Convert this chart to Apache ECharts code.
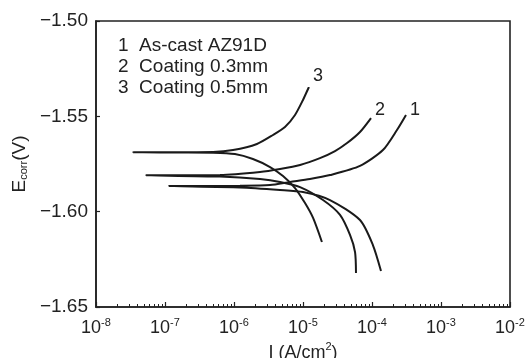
<!DOCTYPE html>
<html>
<head>
<meta charset="utf-8">
<script src="https://cdn.jsdelivr.net/npm/echarts@6/dist/echarts.min.js"></script>
<style>html,body{margin:0;padding:0;background:#fff}#c{width:526px;height:358px}</style>
</head>
<body>
<div id="c"></div>
<script>
// Curve 1: As-cast AZ91D (cathodic end -> tip -> anodic end)
var c1I = [1.35e-4, 1.03e-4, 6.70e-5, 2.46e-5, 1.0e-5, 4.65e-6, 1.22e-6, 1.14e-7, 1.22e-6, 3.33e-6, 6.49e-6, 1.26e-5, 2.46e-5, 6.70e-5, 1.44e-4, 2.30e-4, 3.11e-4];
var c1E = [-1.6311, -1.6175, -1.6044, -1.5939, -1.5897, -1.5886, -1.5873, -1.5866, -1.5864, -1.5860, -1.5844, -1.5829, -1.5808, -1.5760, -1.5677, -1.5572, -1.5493];
// Curve 2: Coating 0.3mm
var c2I = [5.86e-5, 5.68e-5, 4.80e-5, 3.44e-5, 1.95e-5, 9.06e-6, 4.65e-6, 2.38e-6, 6.27e-7, 5.31e-8, 6.27e-7, 2.38e-6, 4.65e-6, 9.06e-6, 1.76e-5, 2.91e-5, 4.35e-5, 6.70e-5, 9.68e-5];
var c2E = [-1.6322, -1.6212, -1.6122, -1.6017, -1.5939, -1.5871, -1.5844, -1.5829, -1.5816, -1.5809, -1.5808, -1.5792, -1.5776, -1.5755, -1.5719, -1.5682, -1.5640, -1.5582, -1.5509];
// Curve 3: Coating 0.5mm
var c3I = [1.88e-5, 1.40e-5, 1.07e-5, 7.66e-6, 5.13e-6, 3.33e-6, 1.88e-6, 1.03e-6, 4.97e-7, 1.65e-7, 3.44e-8, 1.65e-7, 4.97e-7, 9.68e-7, 2.15e-6, 3.67e-6, 5.48e-6, 7.66e-6, 1.0e-5, 1.22e-5];
var c3E = [-1.6159, -1.6033, -1.5955, -1.5876, -1.5813, -1.5766, -1.5724, -1.5698, -1.5691, -1.5690, -1.5689, -1.5688, -1.5687, -1.5677, -1.5645, -1.5598, -1.5556, -1.5493, -1.5414, -1.5346];

var curveTags = ['1', '2', '3'];
var legendLines = ['1  As-cast AZ91D', '2  Coating 0.3mm', '3  Coating 0.5mm'];
var xMajor = [1e-8, 1e-7, 1e-6, 1e-5, 1e-4, 1e-3, 1e-2];
var xMinor = [2e-8,3e-8,4e-8,5e-8,6e-8,7e-8,8e-8,9e-8,
              2e-7,3e-7,4e-7,5e-7,6e-7,7e-7,8e-7,9e-7,
              2e-6,3e-6,4e-6,5e-6,6e-6,7e-6,8e-6,9e-6,
              2e-5,3e-5,4e-5,5e-5,6e-5,7e-5,8e-5,9e-5,
              2e-4,3e-4,4e-4,5e-4,6e-4,7e-4,8e-4,9e-4,
              2e-3,3e-3,4e-3,5e-3,6e-3,7e-3,8e-3,9e-3];

function pairs(a, b) { return a.map(function (v, i) { return [v, b[i]]; }); }
var FONT = 'Liberation Sans, Arial, sans-serif';
var INK = '#222';
var tagOffsets = [[4, -5], [4, -8], [4, -11]];

function mkSeries(I, E, idx) {
  return {
    type: 'line', data: pairs(I, E), showSymbol: false, smooth: 0.25,
    lineStyle: { color: '#1a1a1a', width: 2 },
    xAxisIndex: 0, yAxisIndex: 0,
    endLabel: { show: true, formatter: curveTags[idx], color: INK, fontSize: 18, fontFamily: FONT,
                offset: tagOffsets[idx], distance: 0 },
    silent: true, animation: false
  };
}
var supRich = {
  b: { fontSize: 18, fontFamily: FONT, color: INK, lineHeight: 20, verticalAlign: 'bottom' },
  s: { fontSize: 11, fontFamily: FONT, color: INK, lineHeight: 12, verticalAlign: 'top' }
};

var chart = echarts.init(document.getElementById('c'), null, { renderer: 'canvas' });
chart.setOption({
  backgroundColor: '#fff',
  animation: false,
  grid: { left: 96, right: 16, top: 21, bottom: 51, containLabel: false, outerBoundsMode: 'none',
          show: true, borderColor: INK, borderWidth: 1.6, backgroundColor: 'transparent' },
  xAxis: [{
    type: 'log', logBase: 10, min: xMajor[0], max: xMajor[xMajor.length - 1],
    axisLine: { show: true, lineStyle: { color: INK, width: 1.6 } },
    axisTick: { show: true, inside: true, length: 5, lineStyle: { color: INK, width: 1.2 }, customValues: xMajor },
    axisLabel: {
      color: INK, margin: 10, customValues: xMajor, fontSize: 18, fontFamily: FONT,
      formatter: function (v) { var e = Math.round(Math.log10(v)); return '{b|10}{s|' + e + '}'; },
      rich: supRich
    },
    splitLine: { show: false },
    name: '{b|I (A/cm}{s|2}{b|)}', nameLocation: 'middle', nameGap: 30,
    nameTextStyle: { fontSize: 18, fontFamily: FONT, color: INK, rich: supRich }
  }, {
    type: 'log', logBase: 10, min: xMajor[0], max: xMajor[xMajor.length - 1], position: 'bottom',
    axisLine: { show: false },
    axisTick: { show: true, inside: true, length: 3, lineStyle: { color: INK, width: 1 }, customValues: xMinor },
    axisLabel: { show: false },
    splitLine: { show: false }
  }],
  yAxis: [{
    type: 'value', min: -1.65, max: -1.50, interval: 0.05,
    axisLine: { show: true, lineStyle: { color: INK, width: 1.6 } },
    axisTick: { show: true, inside: true, length: 4, lineStyle: { color: INK, width: 1.2 } },
    axisLabel: { color: INK, fontSize: 19, fontFamily: FONT, margin: 8,
      formatter: function (v) { return '\u2212' + Math.abs(v).toFixed(2); } },
    splitLine: { show: false },
    name: '{a|E}{s|corr}{a|(V)}', nameLocation: 'middle', nameGap: 65, nameRotate: 90,
    nameTextStyle: { fontSize: 19, fontFamily: FONT, color: INK,
      rich: { a: { fontSize: 19, fontFamily: FONT, color: INK, lineHeight: 22, verticalAlign: 'bottom' },
              s: { fontSize: 11, fontFamily: FONT, color: INK, lineHeight: 12, verticalAlign: 'bottom' } } }
  }],
  graphic: legendLines.map(function (t, i) {
    return { type: 'text', left: 118, top: 36.5 + i * 21,
             style: { text: t, fontSize: 19, fontFamily: FONT, fill: INK }, silent: true };
  }),
  series: [mkSeries(c1I, c1E, 0), mkSeries(c2I, c2E, 1), mkSeries(c3I, c3E, 2)]
});
</script>
</body>
</html>
